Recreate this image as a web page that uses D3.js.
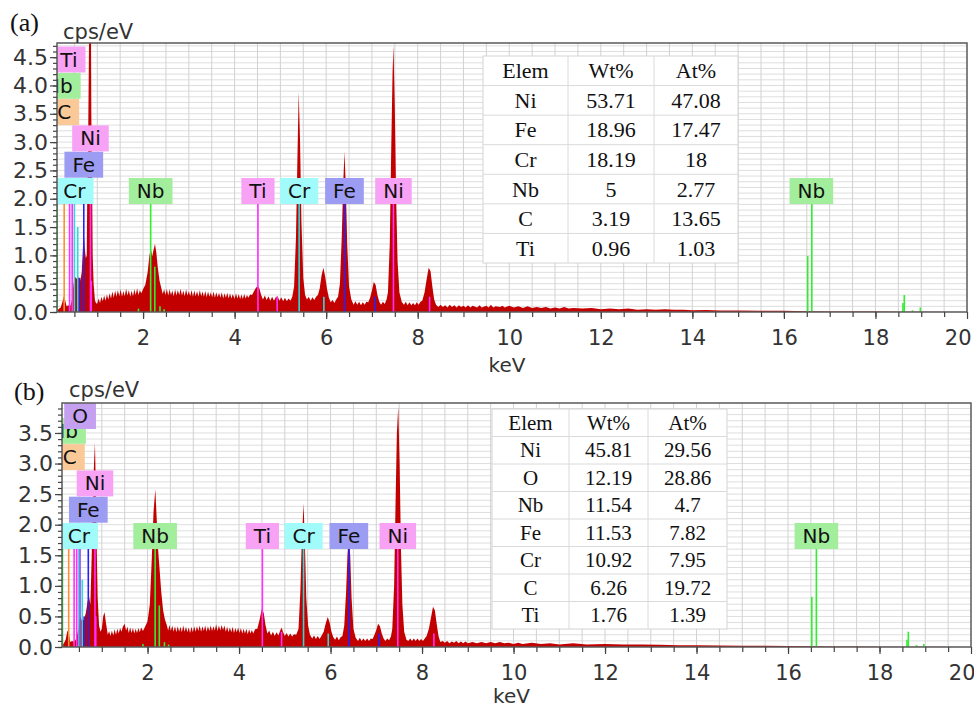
<!DOCTYPE html>
<html>
<head>
<meta charset="utf-8">
<script src="https://cdn.jsdelivr.net/npm/d3@7"></script>
<style>
  body { margin: 0; background: #fff; }
</style>
</head>
<body>
<svg id="chart" width="974" height="708"></svg>
<script>
// ---- spectrum (a), [keV, cps/eV]
const spectrumA = [
  [0.12,0.02],[0.15,0.05],[0.2,0.08],[0.24,0.18],[0.27,0.28],[0.3,0.2],[0.33,0.1],[0.37,0.12],[0.41,0.1],
  [0.45,0.22],[0.48,0.5],[0.52,0.62],[0.56,0.58],[0.6,0.62],[0.63,0.55],[0.66,0.7],[0.69,1.2],[0.71,1.33],
  [0.73,1.1],[0.75,0.95],[0.77,1.0],[0.78,2.0],[0.8,3.0],[0.82,4.8],[0.84,5.5],[0.86,5.5],[0.87,3.5],
  [0.89,2.0],[0.9,1.0],[0.92,0.5],[0.95,0.2],[0.98,0.15],
  [1.0,0.15],[1.03,0.24],[1.06,0.16],[1.09,0.27],[1.12,0.19],[1.15,0.29],[1.18,0.2],[1.21,0.31],[1.24,0.22],
  [1.27,0.33],[1.3,0.24],[1.33,0.36],[1.36,0.25],[1.39,0.38],[1.42,0.27],[1.45,0.39],[1.48,0.28],[1.51,0.4],
  [1.54,0.27],[1.57,0.37],[1.6,0.28],[1.63,0.41],[1.66,0.29],[1.69,0.39],[1.72,0.27],[1.75,0.38],[1.78,0.28],
  [1.81,0.4],[1.84,0.3],[1.87,0.42],[1.9,0.3],[1.93,0.39],[1.96,0.33],[2.0,0.4],[2.05,0.48],[2.1,0.7],
  [2.14,1.0],[2.17,1.12],[2.2,0.98],[2.23,1.1],[2.26,1.2],[2.29,1.05],[2.32,0.8],[2.36,0.55],[2.4,0.42],
  [2.43,0.32],[2.46,0.4],[2.49,0.3],[2.52,0.41],[2.55,0.29],[2.58,0.4],[2.61,0.3],[2.64,0.38],[2.67,0.28],
  [2.7,0.4],[2.73,0.29],[2.76,0.39],[2.79,0.3],[2.82,0.41],[2.85,0.29],[2.88,0.38],[2.91,0.28],[2.94,0.4],
  [2.97,0.29],[3.0,0.37],[3.03,0.28],[3.06,0.39],[3.09,0.27],[3.12,0.38],[3.15,0.28],[3.18,0.37],[3.21,0.27],
  [3.24,0.39],[3.27,0.28],[3.3,0.36],[3.33,0.27],[3.36,0.37],[3.39,0.26],[3.42,0.36],[3.45,0.27],[3.48,0.35],
  [3.51,0.26],[3.54,0.36],[3.57,0.25],[3.6,0.35],[3.63,0.26],[3.66,0.34],[3.69,0.25],[3.72,0.35],[3.75,0.24],
  [3.78,0.33],[3.81,0.25],[3.84,0.34],[3.87,0.24],[3.9,0.33],[3.93,0.24],[3.96,0.32],[4.0,0.23],[4.03,0.33],
  [4.06,0.24],[4.09,0.32],[4.12,0.23],[4.15,0.31],[4.18,0.23],[4.21,0.32],[4.24,0.24],[4.27,0.3],[4.3,0.25],
  [4.34,0.31],[4.38,0.3],[4.42,0.36],[4.46,0.42],[4.5,0.46],[4.54,0.42],[4.58,0.3],[4.62,0.22],[4.66,0.29],
  [4.7,0.21],[4.74,0.28],[4.78,0.2],[4.82,0.27],[4.86,0.2],[4.9,0.26],[4.94,0.28],[4.98,0.2],[5.02,0.26],
  [5.06,0.19],[5.1,0.25],[5.14,0.19],[5.18,0.24],[5.22,0.2],[5.26,0.27],[5.3,0.45],
  [5.34,1.3],[5.37,2.6],[5.4,3.89],[5.43,3.0],[5.46,1.6],[5.5,0.6],[5.54,0.3],[5.58,0.22],[5.62,0.27],
  [5.66,0.2],[5.7,0.26],[5.74,0.21],[5.78,0.27],[5.82,0.3],[5.86,0.42],[5.9,0.65],[5.94,0.78],[5.98,0.62],
  [6.02,0.4],[6.06,0.25],[6.1,0.17],[6.14,0.21],[6.18,0.16],[6.22,0.22],[6.26,0.27],[6.3,0.5],[6.34,1.3],
  [6.37,2.2],[6.4,2.83],[6.43,2.2],[6.46,1.2],[6.5,0.45],[6.55,0.22],[6.6,0.13],[6.64,0.19],[6.68,0.13],
  [6.72,0.18],[6.76,0.12],[6.8,0.17],[6.84,0.13],[6.88,0.18],[6.92,0.17],[6.96,0.25],[7.0,0.38],[7.04,0.53],
  [7.08,0.48],[7.12,0.3],[7.16,0.18],[7.2,0.13],[7.24,0.18],[7.28,0.14],[7.32,0.22],
  [7.35,0.35],[7.39,1.2],[7.42,2.8],[7.45,4.2],[7.47,4.71],[7.5,3.6],[7.53,2.0],[7.56,0.9],
  [7.6,0.35],[7.65,0.18],[7.7,0.13],[7.74,0.18],[7.78,0.12],[7.82,0.17],[7.86,0.12],[7.9,0.16],[7.94,0.12],
  [7.98,0.17],[8.02,0.13],[8.06,0.18],[8.1,0.2],[8.15,0.35],[8.2,0.6],[8.24,0.78],[8.28,0.72],[8.32,0.45],
  [8.36,0.22],[8.4,0.13],[8.45,0.09],[8.5,0.13],[8.55,0.09],[8.6,0.12],[8.65,0.08],[8.7,0.13],[8.75,0.09],
  [8.8,0.12],[8.85,0.08],[8.9,0.12],[8.95,0.09],[9.0,0.11],[9.05,0.08],[9.1,0.12],[9.15,0.08],[9.2,0.11],
  [9.3,0.08],[9.35,0.12],[9.4,0.08],[9.5,0.11],[9.55,0.08],[9.6,0.13],[9.65,0.08],[9.7,0.1],[9.8,0.09],
  [9.85,0.11],[9.9,0.08],[10.0,0.11],[10.1,0.08],[10.2,0.1],[10.3,0.07],[10.4,0.1],[10.5,0.07],[10.6,0.09],
  [10.7,0.07],[10.8,0.09],[10.9,0.06],[11.0,0.08],[11.1,0.06],[11.2,0.09],[11.3,0.06],[11.4,0.07],[11.6,0.06],
  [11.8,0.07],[12.0,0.05],[12.2,0.06],[12.4,0.05],[12.6,0.06],[12.8,0.04],[13.0,0.05],[13.2,0.04],[13.4,0.05],
  [13.6,0.04],[13.8,0.04],[14.0,0.03],[14.3,0.035],[14.6,0.025],[15.0,0.025],[15.5,0.02],[16.0,0.02],[16.5,0.015],
  [17.0,0.01],[17.5,0.01],[18.0,0.008],[18.5,0.005],[19.0,0.004],[20.0,0]
];

// ---- spectrum (b)
const spectrumB = [
  [0.13,0.03],[0.17,0.06],[0.21,0.12],[0.25,0.27],[0.28,0.22],[0.31,0.08],[0.35,0.1],[0.4,0.08],[0.45,0.15],
  [0.5,0.35],[0.53,0.5],[0.57,0.42],[0.61,0.45],[0.65,0.55],[0.69,0.75],[0.72,0.82],[0.75,0.7],[0.78,1.5],
  [0.8,2.2],[0.83,3.0],[0.85,3.34],[0.87,2.6],[0.89,1.6],[0.91,0.8],[0.94,0.35],[0.97,0.25],[1.0,0.3],
  [1.03,0.5],[1.06,0.57],[1.09,0.4],[1.13,0.2],[1.16,0.26],[1.19,0.18],[1.22,0.27],[1.25,0.19],[1.28,0.29],
  [1.31,0.2],[1.34,0.3],[1.37,0.22],[1.4,0.31],[1.43,0.25],[1.46,0.33],[1.5,0.38],[1.53,0.27],[1.56,0.33],
  [1.59,0.23],[1.62,0.32],[1.65,0.23],[1.68,0.31],[1.71,0.22],[1.74,0.3],[1.77,0.23],[1.8,0.31],[1.83,0.24],
  [1.86,0.32],[1.9,0.26],[1.95,0.34],[2.0,0.42],[2.05,0.7],[2.09,1.4],[2.13,2.2],[2.17,2.58],[2.2,2.1],
  [2.23,1.6],[2.26,1.3],[2.3,0.9],[2.34,0.6],[2.38,0.45],[2.42,0.36],[2.45,0.27],[2.48,0.36],[2.51,0.26],
  [2.54,0.35],[2.57,0.25],[2.6,0.34],[2.63,0.24],[2.66,0.34],[2.69,0.25],[2.72,0.33],[2.75,0.24],[2.78,0.35],
  [2.81,0.25],[2.84,0.33],[2.87,0.24],[2.9,0.32],[2.93,0.23],[2.96,0.33],[2.99,0.24],[3.02,0.34],[3.05,0.25],
  [3.08,0.34],[3.11,0.26],[3.14,0.35],[3.17,0.25],[3.2,0.34],[3.23,0.26],[3.26,0.35],[3.29,0.25],[3.32,0.34],
  [3.35,0.26],[3.38,0.35],[3.41,0.26],[3.44,0.34],[3.47,0.27],[3.5,0.37],[3.53,0.26],[3.56,0.35],[3.59,0.27],
  [3.62,0.36],[3.65,0.28],[3.68,0.35],[3.71,0.25],[3.74,0.33],[3.77,0.24],[3.8,0.32],[3.83,0.24],[3.86,0.33],
  [3.89,0.23],[3.92,0.31],[3.95,0.24],[3.98,0.32],[4.01,0.23],[4.04,0.31],[4.07,0.22],[4.1,0.3],[4.13,0.22],
  [4.16,0.3],[4.19,0.21],[4.22,0.29],[4.25,0.22],[4.28,0.28],[4.31,0.22],[4.35,0.29],[4.4,0.3],[4.45,0.45],
  [4.5,0.63],[4.54,0.55],[4.58,0.35],[4.62,0.22],[4.66,0.27],[4.7,0.19],[4.74,0.25],[4.78,0.18],[4.82,0.24],
  [4.86,0.19],[4.9,0.27],[4.93,0.32],[4.96,0.25],[5.0,0.18],[5.04,0.23],[5.08,0.17],[5.12,0.22],[5.16,0.17],
  [5.2,0.21],[5.25,0.2],[5.3,0.3],[5.34,0.9],[5.37,1.7],[5.41,2.35],[5.44,1.7],[5.47,0.8],[5.51,0.35],[5.55,0.2],
  [5.6,0.14],[5.64,0.19],[5.68,0.13],[5.72,0.18],[5.76,0.13],[5.8,0.18],[5.85,0.25],[5.9,0.4],[5.94,0.49],
  [5.98,0.4],[6.02,0.25],[6.06,0.16],[6.1,0.12],[6.14,0.17],[6.18,0.11],[6.22,0.16],[6.26,0.18],[6.3,0.35],
  [6.34,0.9],[6.37,1.5],[6.4,1.85],[6.43,1.5],[6.46,0.8],[6.5,0.3],[6.55,0.15],[6.6,0.1],[6.64,0.15],
  [6.68,0.1],[6.72,0.14],[6.76,0.1],[6.8,0.14],[6.84,0.1],[6.88,0.14],[6.92,0.13],[6.96,0.2],[7.0,0.28],
  [7.04,0.38],[7.08,0.34],[7.12,0.22],[7.16,0.14],[7.2,0.1],[7.24,0.14],[7.28,0.11],[7.32,0.17],
  [7.35,0.3],[7.39,1.0],[7.42,2.3],[7.45,3.5],[7.48,3.93],[7.51,3.0],[7.54,1.6],[7.57,0.7],[7.61,0.25],
  [7.66,0.12],[7.7,0.1],[7.74,0.14],[7.78,0.1],[7.82,0.14],[7.86,0.1],[7.9,0.14],[7.94,0.1],[7.98,0.13],
  [8.02,0.1],[8.06,0.14],[8.1,0.18],[8.15,0.3],[8.2,0.5],[8.24,0.66],[8.28,0.6],[8.32,0.38],[8.36,0.18],
  [8.4,0.08],[8.45,0.1],[8.5,0.07],[8.55,0.1],[8.6,0.06],[8.65,0.09],[8.7,0.07],[8.75,0.1],[8.8,0.06],
  [8.85,0.09],[8.9,0.06],[8.95,0.09],[9.0,0.06],[9.1,0.08],[9.2,0.06],[9.3,0.08],[9.4,0.06],[9.5,0.08],
  [9.6,0.06],[9.7,0.08],[9.8,0.06],[9.9,0.07],[10.0,0.05],[10.1,0.07],[10.2,0.05],[10.4,0.07],[10.6,0.05],
  [10.8,0.06],[11.0,0.04],[11.3,0.06],[11.6,0.04],[12.0,0.05],[12.4,0.04],[12.8,0.04],
  [13.2,0.035],[13.6,0.03],[14.0,0.03],[14.5,0.025],[15.0,0.02],[15.5,0.02],[16.0,0.015],[16.5,0.012],
  [17.0,0.01],[17.5,0.008],[18.0,0.006],[18.5,0.005],[19.0,0.003],[20.0,0]
];

// element marker lines: [element, keV, height]  (null = runs up to the label row)
const linesA = [
  ["Nb",0.125,null],["C",0.277,null],["Ti",0.395,null],["Ti",0.452,null],["Cr",0.50,null],["Cr",0.573,1.5],
  ["Fe",0.615,0.6],["Fe",0.705,null],["Ni",0.851,null],["Ni",0.868,0.55],
  ["Nb",1.90,0.06],["Nb",2.166,null],["Nb",2.257,0.8],["Nb",2.37,0.1],["Nb",2.46,0.05],
  ["Ti",4.51,null],["Ti",4.93,0.27],["Cr",5.41,null],["Cr",5.95,0.27],["Fe",6.40,null],["Fe",7.06,0.27],
  ["Ni",7.47,null],["Ni",8.26,0.27],
  ["Nb",16.52,0.99],["Nb",16.61,null],["Nb",18.6,0.16],["Nb",18.63,0.3],["Nb",18.81,0.03],["Nb",18.98,0.08]
];
const linesB = [
  ["Nb",0.14,null],["C",0.277,null],["Ti",0.395,null],["Ti",0.452,null],["Cr",0.50,null],["O",0.525,null],
  ["Cr",0.573,1.1],["Fe",0.615,0.5],["Fe",0.705,null],["Ni",0.851,null],["Ni",0.868,0.5],
  ["Nb",1.90,0.05],["Nb",2.166,null],["Nb",2.257,0.68],["Nb",2.37,0.08],["Nb",2.46,0.04],
  ["Ti",4.51,null],["Ti",4.93,0.25],["Cr",5.41,null],["Cr",5.95,0.22],["Fe",6.40,null],["Fe",7.06,0.22],
  ["Ni",7.47,null],["Ni",8.26,0.22],
  ["Nb",16.52,0.82],["Nb",16.62,null],["Nb",18.6,0.12],["Nb",18.63,0.25],["Nb",18.81,0.03],["Nb",18.97,0.05]
];

// element labels: [element, keV, stack row]
const labelsA = [
  ["Cr",0.50,0],["Nb",2.166,0],["Ti",4.51,0],["Cr",5.41,0],["Fe",6.40,0],["Ni",7.47,0],["Nb",16.6,0],
  ["Fe",0.705,1],["Ni",0.851,2],["C",0.277,3],["Nb",0.16,4],["Ti",0.38,5]
];
const labelsB = [
  ["Cr",0.50,0],["Nb",2.166,0],["Ti",4.51,0],["Cr",5.41,0],["Fe",6.40,0],["Ni",7.47,0],["Nb",16.62,0],
  ["Fe",0.705,1],["Ni",0.851,2],["C",0.30,3],["Nb",0.175,4],["O",0.525,5]
];

// quantification tables
const tableHeader = ["Elem","Wt%","At%"];
const tableA = [
  ["Ni","53.71","47.08"],["Fe","18.96","17.47"],["Cr","18.19","18"],
  ["Nb","5","2.77"],["C","3.19","13.65"],["Ti","0.96","1.03"]
];
const tableB = [
  ["Ni","45.81","29.56"],["O","12.19","28.86"],["Nb","11.54","4.7"],["Fe","11.53","7.82"],
  ["Cr","10.92","7.95"],["C","6.26","19.72"],["Ti","1.76","1.39"]
];

// tick labels
const xTickLabels = [2,4,6,8,10,12,14,16,18,20];
const yTicksA = [0,0.5,1,1.5,2,2.5,3,3.5,4,4.5];
const yTicksB = [0,0.5,1,1.5,2,2.5,3,3.5];

// colours per element (box fill, marker line)
const elColors = {
  Ti: { box: "#f7a2f5", line: "#ff30ff" },
  Ni: { box: "#f7a2f5", line: "#ff30ff" },
  Cr: { box: "#a2fbfb", line: "#2fd9d9" },
  Fe: { box: "#9c9cf2", line: "#2222ff" },
  Nb: { box: "#a2ee9c", line: "#30ee30" },
  C:  { box: "#fbc897", line: "#ff9030" },
  O:  { box: "#c6a0f0", line: "#9a50f0" }
};

const svg = d3.select("#chart");
const axisFont = "DejaVu Sans, Verdana, sans-serif";
const serifFont = "Liberation Serif, Times New Roman, serif";

const panels = [
  { id: "a", tag: "(a)", spectrum: spectrumA, lines: linesA, labels: labelsA, table: tableA, yTicks: yTicksA,
    left: 57, right: 967, top: 43, bottom: 312, xmin: 0.12, ymax: 4.75, rowBottom: 204,
    tagPos: [10, 31], unitPos: [63, 39], keVy: 372,
    tbl: { x: 483, y: 56, w: 255, h: 207, c1: 568, c2: 654, fs: 22 } },
  { id: "b", tag: "(b)", spectrum: spectrumB, lines: linesB, labels: labelsB, table: tableB, yTicks: yTicksB,
    left: 62, right: 971, top: 403, bottom: 647, xmin: 0.13, ymax: 3.99, rowBottom: 549,
    tagPos: [14, 400], unitPos: [69, 397], keVy: 703,
    tbl: { x: 492, y: 409, w: 235, h: 220, c1: 569, c2: 648, fs: 21 } }
];

panels.forEach(drawPanel);

function drawPanel(p) {
  const x = d3.scaleLinear().domain([p.xmin, 20]).range([p.left, p.right]);
  const y = d3.scaleLinear().domain([0, p.ymax]).range([p.bottom, p.top]);
  const g = svg.append("g").attr("class", "panel-" + p.id);

  g.append("clipPath").attr("id", "clip-" + p.id)
    .append("rect")
    .attr("x", p.left).attr("y", p.top)
    .attr("width", p.right - p.left).attr("height", p.bottom - p.top);

  // grid: fine horizontal lines every 0.1, vertical every 0.5 keV
  g.append("g").selectAll("line")
    .data(d3.range(1, Math.floor(p.ymax * 10) + 1).map(d => d / 10))
    .join("line")
    .attr("x1", p.left).attr("x2", p.right)
    .attr("y1", d => y(d)).attr("y2", d => y(d))
    .attr("stroke", "#dedede").attr("stroke-width", 1);
  g.append("g").selectAll("line")
    .data(d3.range(1, 40).map(d => d / 2))
    .join("line")
    .attr("y1", p.top).attr("y2", p.bottom)
    .attr("x1", d => x(d)).attr("x2", d => x(d))
    .attr("stroke", "#d2d2d2").attr("stroke-width", 1);

  const plot = g.append("g").attr("clip-path", `url(#clip-${p.id})`);

  // spectrum
  const area = d3.area()
    .x(d => x(d[0]))
    .y0(y(0))
    .y1(d => y(d[1]));
  plot.append("path")
    .datum(p.spectrum)
    .attr("d", area)
    .attr("fill", "#c20000");

  // label boxes geometry
  const rowStep = 26.3, boxH = 26;
  const labelTop = row => Math.max(p.top, p.rowBottom - boxH - row * rowStep);

  // marker lines
  plot.append("g").selectAll("line")
    .data(p.lines)
    .join("line")
    .attr("x1", d => x(d[1])).attr("x2", d => x(d[1]))
    .attr("y1", y(0))
    .attr("y2", d => d[2] === null ? p.rowBottom : y(d[2]))
    .attr("stroke", d => elColors[d[0]].line)
    .attr("stroke-width", 1.6);

  // label boxes, stacked rows drawn bottom row first
  const lab = plot.append("g").selectAll("g")
    .data(p.labels.slice().sort((a, b) => a[2] - b[2]))
    .join("g");
  lab.each(function (d) {
    const el = d3.select(this);
    const t = el.append("text")
      .attr("font-family", axisFont).attr("font-size", 20)
      .attr("fill", "#111")
      .attr("text-anchor", "middle")
      .attr("x", x(d[1]))
      .attr("y", labelTop(d[2]) + boxH / 2 + 7)
      .text(d[0]);
    const w = t.node().getComputedTextLength() + 16;
    el.insert("rect", "text")
      .attr("x", x(d[1]) - w / 2).attr("y", labelTop(d[2]))
      .attr("width", w).attr("height", boxH)
      .attr("fill", elColors[d[0]].box);
  });

  // frame
  g.append("rect")
    .attr("x", p.left).attr("y", p.top)
    .attr("width", p.right - p.left).attr("height", p.bottom - p.top)
    .attr("fill", "none").attr("stroke", "#5a5a5a").attr("stroke-width", 1.5);

  // y axis: major + minor ticks
  const yMajor = g.append("g").attr("transform", `translate(${p.left},0)`)
    .call(d3.axisLeft(y).tickValues(p.yTicks).tickSize(7).tickPadding(2).tickFormat(d3.format(".1f")));
  const yMinor = g.append("g").attr("transform", `translate(${p.left},0)`)
    .call(d3.axisLeft(y).tickValues(d3.range(0, Math.floor(p.ymax * 10) + 1).map(d => d / 10)).tickSize(4).tickFormat(""));

  // x axis
  const xMajor = g.append("g").attr("transform", `translate(0,${p.bottom})`)
    .call(d3.axisBottom(x).tickValues(xTickLabels).tickSize(7).tickPadding(11));
  const xMinor = g.append("g").attr("transform", `translate(0,${p.bottom})`)
    .call(d3.axisBottom(x).tickValues(d3.range(1, 40).map(d => d / 2)).tickSize(5).tickFormat(""));

  [yMajor, yMinor, xMajor, xMinor].forEach(a => {
    a.select(".domain").remove();
    a.selectAll(".tick line").attr("stroke", "#444").attr("stroke-width", 1.2);
    a.selectAll("text").attr("font-family", axisFont).attr("font-size", 21).attr("fill", "#333");
  });
  yMajor.selectAll(".tick text").attr("font-size", 22);
  // keep the last x label inside the frame
  xMajor.selectAll(".tick text").filter(d => d === 20)
    .attr("text-anchor", "end").attr("x", 4);

  g.append("text")
    .attr("x", (p.left + p.right) / 2 - 5).attr("y", p.keVy)
    .attr("text-anchor", "middle")
    .attr("font-family", axisFont).attr("font-size", 20).attr("fill", "#333")
    .text("keV");
  g.append("text")
    .attr("x", p.unitPos[0]).attr("y", p.unitPos[1])
    .attr("font-family", axisFont).attr("font-size", 21).attr("fill", "#333")
    .text("cps/eV");
  g.append("text")
    .attr("x", p.tagPos[0]).attr("y", p.tagPos[1])
    .attr("font-family", serifFont).attr("font-size", 26).attr("fill", "#111")
    .text(p.tag);

  // quantification table
  const t = p.tbl;
  const rows = [tableHeader].concat(p.table);
  const rh = t.h / rows.length;
  const tg = g.append("g");
  tg.append("rect")
    .attr("x", t.x).attr("y", t.y).attr("width", t.w).attr("height", t.h)
    .attr("fill", "#fff").attr("stroke", "#d4d4d4");
  tg.selectAll("line.row")
    .data(d3.range(1, rows.length))
    .join("line").attr("class", "row")
    .attr("x1", t.x).attr("x2", t.x + t.w)
    .attr("y1", i => t.y + i * rh).attr("y2", i => t.y + i * rh)
    .attr("stroke", "#dadada");
  tg.selectAll("line.col")
    .data([t.c1, t.c2])
    .join("line").attr("class", "col")
    .attr("x1", d => d).attr("x2", d => d)
    .attr("y1", t.y).attr("y2", t.y + t.h)
    .attr("stroke", "#dadada");
  const colX = [(t.x + t.c1) / 2, (t.c1 + t.c2) / 2, (t.c2 + t.x + t.w) / 2];
  rows.forEach((r, i) => {
    r.forEach((cell, j) => {
      tg.append("text")
        .attr("x", colX[j]).attr("y", t.y + i * rh + rh / 2 + t.fs * 0.34)
        .attr("text-anchor", "middle")
        .attr("font-family", serifFont).attr("font-size", t.fs).attr("fill", "#111")
        .text(cell);
    });
  });
}
</script>
</body>
</html>
